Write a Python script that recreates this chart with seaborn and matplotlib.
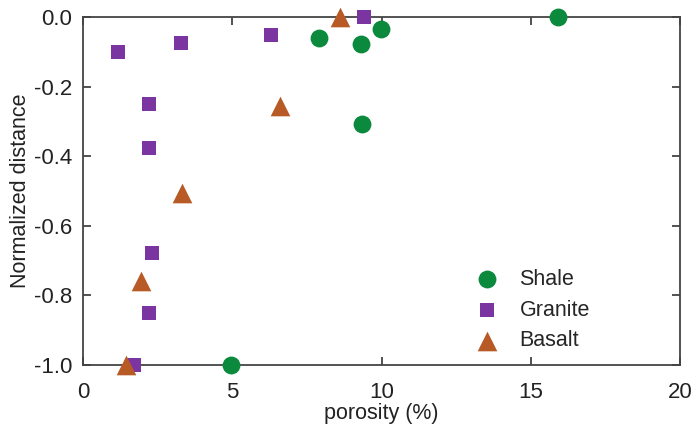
import matplotlib
matplotlib.use("Agg")
import matplotlib.pyplot as plt
import seaborn as sns
import pandas as pd

# values
shale_x = [4.95, 7.9, 9.3, 9.97, 9.33, 15.9]
shale_y = [-1.0, -0.06, -0.078, -0.034, -0.307, 0.0]

granite_x = [1.17, 3.27, 2.2, 2.2, 2.3, 2.2, 1.7, 6.3, 9.4]
granite_y = [-0.10, -0.075, -0.25, -0.376, -0.678, -0.85, -1.0, -0.052, 0.0]

basalt_x = [1.43, 1.93, 3.3, 6.6, 8.6]
basalt_y = [-1.0, -0.76, -0.505, -0.256, 0.0]

rock_names = ["Shale", "Granite", "Basalt"]
x_ticks = [0, 5, 10, 15, 20]
y_ticks = [0.0, -0.2, -0.4, -0.6, -0.8, -1.0]

sns.set_theme(style="ticks")
plt.rcParams['font.family'] = ['Liberation Sans', 'DejaVu Sans']
plt.rcParams['axes.unicode_minus'] = False

df = pd.concat([
    pd.DataFrame({"porosity": shale_x, "dist": shale_y, "rock": "Shale"}),
    pd.DataFrame({"porosity": granite_x, "dist": granite_y, "rock": "Granite"}),
    pd.DataFrame({"porosity": basalt_x, "dist": basalt_y, "rock": "Basalt"}),
])

colors = {"Shale": "#0b8a3e", "Granite": "#7b35a1", "Basalt": "#b85a25"}
markers = {"Shale": "o", "Granite": "s", "Basalt": "^"}
sizes = {"Shale": 165, "Granite": 115, "Basalt": 200}

fig = plt.figure(figsize=(6.93, 4.25), dpi=100)
# axes frame: x 83..680 px, y 17..365 px
ax = fig.add_axes([0.1198, 0.1412, 0.8615, 0.8188])

for name in rock_names:
    sub = df[df["rock"] == name]
    sns.scatterplot(data=sub, x="porosity", y="dist", ax=ax, color=colors[name],
                    marker=markers[name], s=sizes[name], linewidth=0,
                    label=name, clip_on=False, zorder=3)

ax.set_xlim(0, 20)
ax.set_ylim(-1.0, 0.0)
ax.set_xticks(x_ticks)
ax.set_yticks(y_ticks)
ax.set_yticklabels([f"{v:.1f}" for v in y_ticks])
ax.set_xlabel("porosity (%)", fontsize=15.5, color="#222222", labelpad=0)
ax.set_ylabel("Normalized distance", fontsize=15.5, color="#222222", labelpad=2)

for side in ax.spines.values():
    side.set_color("#444444")
    side.set_linewidth(1.3)
ax.tick_params(direction="in", length=6, width=1.3, color="#444444",
               top=True, right=True, labelsize=16, labelcolor="#222222")
ax.tick_params(axis="x", pad=12)
ax.tick_params(axis="y", pad=8)

ax.legend(loc="upper left", bbox_to_anchor=(0.623, 0.307), frameon=False,
          fontsize=15.5, labelspacing=0.45, handletextpad=0.5, borderpad=0)

fig.savefig("out.png", dpi=100)
